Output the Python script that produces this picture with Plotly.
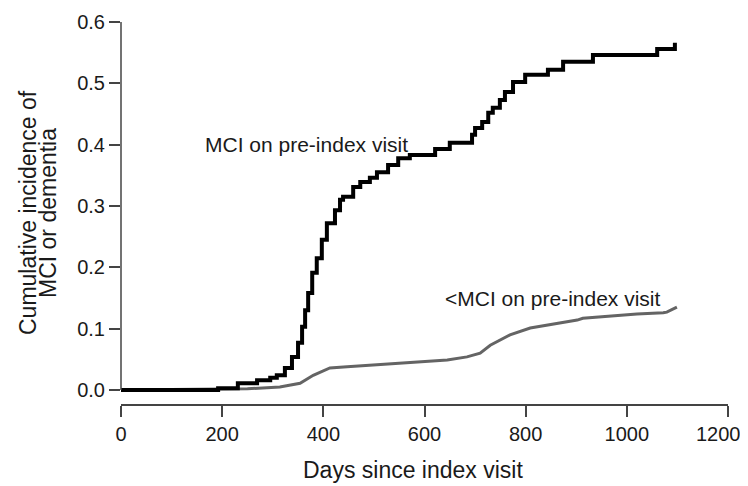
import plotly.graph_objects as go

# MCI on pre-index visit (black step curve)
mci_days = [0, 192, 231, 269, 295, 308, 324, 338, 350, 358, 364, 370, 378, 387, 397, 407,
            423, 433, 439, 459, 473, 492, 506, 528, 548, 571, 621, 650, 694, 700, 714, 726,
            735, 749, 759, 775, 799, 844, 874, 933, 1060, 1095]
mci_inc = [0.0, 0.003, 0.011, 0.016, 0.020, 0.024, 0.036, 0.054, 0.077, 0.103, 0.130, 0.158,
           0.191, 0.215, 0.245, 0.272, 0.293, 0.310, 0.315, 0.331, 0.339, 0.346, 0.355, 0.367,
           0.378, 0.383, 0.393, 0.403, 0.416, 0.427, 0.437, 0.452, 0.460, 0.473, 0.486, 0.502,
           0.514, 0.522, 0.535, 0.546, 0.556, 0.566]

# <MCI on pre-index visit (grey curve)
lt_days = [0, 250, 314, 354, 380, 413, 447, 512, 577, 645, 684, 710, 730, 769, 809, 848,
           902, 913, 967, 1020, 1072, 1079, 1099]
lt_inc = [0.0, 0.002, 0.005, 0.011, 0.024, 0.036, 0.038, 0.042, 0.046, 0.049, 0.054, 0.060,
          0.073, 0.090, 0.101, 0.106, 0.114, 0.117, 0.121, 0.124, 0.126, 0.127, 0.135]

x_ticks = [0, 200, 400, 600, 800, 1000, 1200]
x_tick_text = ["0", "200", "400", "600", "800", "1000", ""]
last_x_label = "1200"
y_ticks = [0.0, 0.1, 0.2, 0.3, 0.4, 0.5, 0.6]
y_tick_text = ["0.0", "0.1", "0.2", "0.3", "0.4", "0.5", "0.6"]

x_title = "Days since index visit"
y_title_lines = ["Cumulative incidence of", "MCI or dementia"]

FONT = "Liberation Sans, Arial, Helvetica, sans-serif"
AX = "#444444"
TXT = "#1a1a1a"

fig = go.Figure()
fig.add_trace(go.Scatter(x=lt_days, y=lt_inc, mode="lines",
                         line=dict(color="#646464", width=3), showlegend=False))
fig.add_trace(go.Scatter(x=mci_days, y=mci_inc, mode="lines", line_shape="hv",
                         line=dict(color="#000000", width=4), showlegend=False))

fig.add_annotation(x=162, y=0.401, text="MCI on pre-index visit", showarrow=False,
                   xanchor="left", yanchor="middle", font=dict(size=21, color=TXT, family=FONT))
fig.add_annotation(x=637, y=0.150, text="<MCI on pre-index visit", showarrow=False,
                   xanchor="left", yanchor="middle", font=dict(size=21, color=TXT, family=FONT))

# last x tick label, pulled inward to stay inside the page (as in the reference)
fig.add_annotation(x=x_ticks[-1], xref="x", y=0, yref="paper", yshift=-30, xshift=-10,
                   text=last_x_label, showarrow=False, xanchor="center", yanchor="middle",
                   font=dict(size=20, color=TXT, family=FONT))

# axis titles
fig.add_annotation(x=0.5, xref="paper", xshift=-12, y=0, yref="paper", yshift=-66,
                   text=x_title, showarrow=False, xanchor="center", yanchor="middle",
                   font=dict(size=23, color=TXT, family=FONT))
for txt, shift in zip(y_title_lines, [-93, -73]):
    fig.add_annotation(x=0, xref="paper", xshift=shift, y=0.5, yref="paper",
                       text=txt, textangle=-90, showarrow=False,
                       xanchor="center", yanchor="middle",
                       font=dict(size=23, color=TXT, family=FONT))

# detached y-axis line (R style)
fig.add_shape(type="line", xref="paper", x0=0, x1=0, yref="y", y0=0, y1=0.6,
              line=dict(color=AX, width=1.5))

# page body has an 8px margin; keep the figure inside the window
fig.update_layout(
    width=740, height=478,
    margin=dict(l=113, r=20, t=14, b=82, autoexpand=False),
    paper_bgcolor="white", plot_bgcolor="white",
    font=dict(family=FONT, color=TXT),
    xaxis=dict(range=[0, 1200], tickvals=x_ticks, ticktext=x_tick_text,
               showgrid=False, zeroline=False,
               automargin=False, ticklabeloverflow="allow",
               showline=True, linecolor=AX, linewidth=1.5,
               ticks="outside", ticklen=11, tickwidth=1.5, tickcolor=AX,
               ticklabelstandoff=0,
               tickfont=dict(size=20, color=TXT)),
    yaxis=dict(range=[-0.0228, 0.6], tickvals=y_ticks, ticktext=y_tick_text,
               showgrid=False, zeroline=False, showline=False,
               automargin=False, ticklabeloverflow="allow",
               ticks="outside", ticklen=11, tickwidth=1.5, tickcolor=AX,
               tickfont=dict(size=20, color=TXT)),
)

fig.write_html("out.html")
